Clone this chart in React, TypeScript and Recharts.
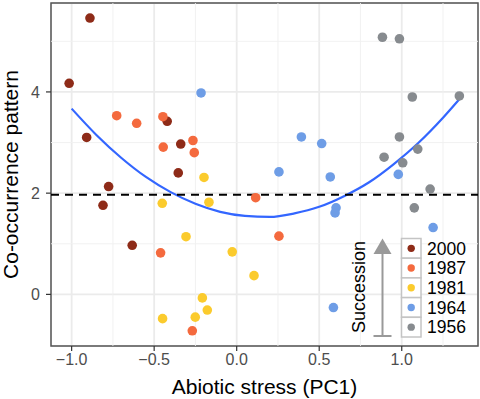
import React from 'react';
import {
  ComposedChart,
  Scatter,
  Line,
  XAxis,
  YAxis,
  CartesianGrid,
  ReferenceLine,
  ReferenceArea,
  Label,
} from 'recharts';

// survey years (legend order) and their colours
const years = ['2000', '1987', '1981', '1964', '1956'];
const colors = ['#8E2B18', '#F46A3E', '#FBCB2D', '#6E9DE6', '#878B8F'];

// points: x = abiotic stress (PC1), y = co-occurrence pattern
const pts2000 = [
  { x: -0.889, y: 5.46 }, { x: -1.015, y: 4.17 }, { x: -0.909, y: 3.1 },
  { x: -0.421, y: 3.42 }, { x: -0.339, y: 2.97 }, { x: -0.354, y: 2.4 },
  { x: -0.776, y: 2.13 }, { x: -0.81, y: 1.76 }, { x: -0.633, y: 0.97 },
];
const pts1987 = [
  { x: -0.727, y: 3.53 }, { x: -0.606, y: 3.38 }, { x: -0.447, y: 3.51 },
  { x: -0.445, y: 2.91 }, { x: -0.265, y: 3.04 }, { x: -0.257, y: 2.8 },
  { x: 0.115, y: 1.91 }, { x: 0.256, y: 1.15 }, { x: -0.461, y: 0.82 },
  { x: -0.269, y: -0.72 },
];
const pts1981 = [
  { x: -0.198, y: 2.31 }, { x: -0.168, y: 1.82 }, { x: -0.451, y: 1.8 },
  { x: -0.307, y: 1.14 }, { x: -0.027, y: 0.84 }, { x: 0.105, y: 0.37 },
  { x: -0.208, y: -0.07 }, { x: -0.178, y: -0.31 }, { x: -0.251, y: -0.45 },
  { x: -0.449, y: -0.48 },
];
const pts1964 = [
  { x: -0.216, y: 3.98 }, { x: 0.392, y: 3.11 }, { x: 0.515, y: 2.98 },
  { x: 0.256, y: 2.42 }, { x: 0.567, y: 2.32 }, { x: 0.979, y: 2.37 },
  { x: 0.602, y: 1.71 }, { x: 0.596, y: 1.61 }, { x: 1.19, y: 1.32 },
  { x: 0.586, y: -0.26 },
];
const pts1956 = [
  { x: 0.883, y: 5.08 }, { x: 0.986, y: 5.05 }, { x: 1.064, y: 3.9 },
  { x: 1.349, y: 3.92 }, { x: 0.986, y: 3.11 }, { x: 1.097, y: 2.87 },
  { x: 0.893, y: 2.71 }, { x: 1.006, y: 2.6 }, { x: 1.172, y: 2.08 },
  { x: 1.076, y: 1.71 },
];
const seriesPts = [pts2000, pts1987, pts1981, pts1964, pts1956];

// fitted curve
const curve = [
  { x: -1.0, y: 3.67 }, { x: -0.85, y: 3.15 }, { x: -0.7, y: 2.7 },
  { x: -0.55, y: 2.32 }, { x: -0.4, y: 2.02 }, { x: -0.25, y: 1.79 },
  { x: -0.1, y: 1.63 }, { x: 0.05, y: 1.55 }, { x: 0.2, y: 1.53 },
  { x: 0.35, y: 1.6 }, { x: 0.5, y: 1.73 }, { x: 0.65, y: 1.94 },
  { x: 0.8, y: 2.21 }, { x: 0.95, y: 2.57 }, { x: 1.1, y: 2.99 },
  { x: 1.25, y: 3.49 }, { x: 1.35, y: 3.86 },
];

const threshold = 1.97;
const xTicks = [-1, -0.5, 0, 0.5, 1];
const yTicks = [0, 2, 4];
const xMinor = [-0.75, -0.25, 0.25, 0.75, 1.25];
const yMinor = [1, 3, 5];
const xDomain: [number, number] = [-1.125, 1.462];
const yDomain: [number, number] = [-1.02, 5.757];

const FONT = '"Liberation Sans", Arial, Helvetica, sans-serif';

const fmtX = (v: number) => (v < 0 ? '\u2212' + Math.abs(v).toFixed(1) : v.toFixed(1));

const dot = (color: string) => (props: any) => (
  <circle cx={props.cx} cy={props.cy} r={4.8} fill={color} />
);

const LegendOverlay = () => (
  <svg
    width={480}
    height={399}
    style={{ position: 'absolute', left: 0, top: 0, pointerEvents: 'none', fontFamily: FONT }}
  >
    <line x1={382.5} y1={336} x2={382.5} y2={252} stroke="#999999" strokeWidth={2} />
    <line x1={373.5} y1={336} x2={391.5} y2={336} stroke="#999999" strokeWidth={2} />
    <polygon points="382.5,238.5 373.5,254 391.5,254" fill="#999999" />
    <text
      x={358.5}
      y={287}
      transform="rotate(-90 358.5 287)"
      textAnchor="middle"
      dominantBaseline="central"
      fontSize={18}
      fill="#000"
    >
      Succession
    </text>
    {years.map((yr, i) => {
      const top = 238.5 + i * 19.7;
      return (
        <g key={yr}>
          <rect x={401.5} y={top} width={19.5} height={19.7} fill="#fff" stroke="#C4C4C4" strokeWidth={1.5} />
          <circle cx={411.2} cy={top + 9.85} r={3.7} fill={colors[i]} />
          <text x={427} y={top + 10} dominantBaseline="central" fontSize={17.5} fill="#000">
            {yr}
          </text>
        </g>
      );
    })}
  </svg>
);

export default function App() {
  return (
    <div style={{ position: 'relative', width: 480, height: 399, background: '#fff' }}>
      <style>{'body{margin:0}'}</style>
      <ComposedChart
        width={480}
        height={399}
        margin={{ top: 3, right: 2, bottom: 0, left: 0 }}
        style={{ fontFamily: FONT }}
      >
        <CartesianGrid stroke="#EBEBEB" strokeWidth={1.8} />
        {xMinor.map((v) => (
          <ReferenceLine key={'xm' + v} x={v} stroke="#EFEFEF" strokeWidth={0.9} />
        ))}
        {yMinor.map((v) => (
          <ReferenceLine key={'ym' + v} y={v} stroke="#EFEFEF" strokeWidth={0.9} />
        ))}
        <XAxis
          type="number"
          dataKey="x"
          domain={xDomain}
          allowDataOverflow
          ticks={xTicks}
          tickFormatter={fmtX}
          axisLine={false}
          tickLine={{ stroke: '#333333', strokeWidth: 1.2 }}
          tickSize={5}
          tickMargin={3}
          tick={{ fill: '#4D4D4D', fontSize: 16 }}
          height={53}
        >
          <Label
            value="Abiotic stress (PC1)"
            position="insideBottom"
            offset={5}
            style={{ fill: '#000', fontSize: 21 }}
          />
        </XAxis>
        <YAxis
          type="number"
          dataKey="y"
          domain={yDomain}
          allowDataOverflow
          ticks={yTicks}
          axisLine={false}
          tickLine={{ stroke: '#333333', strokeWidth: 1.2 }}
          tickSize={5}
          tickMargin={6}
          tick={{ fill: '#4D4D4D', fontSize: 16 }}
          width={51}
        >
          <Label
            value="Co-occurrence pattern"
            angle={-90}
            position="insideLeft"
            offset={11}
            style={{ fill: '#000', fontSize: 21, textAnchor: 'middle' }}
          />
        </YAxis>
        {seriesPts.map((pts, i) => (
          <Scatter
            key={years[i]}
            name={years[i]}
            data={pts}
            fill={colors[i]}
            shape={dot(colors[i])}
            isAnimationActive={false}
          />
        ))}
        <Line
          data={curve}
          dataKey="y"
          type="monotone"
          stroke="#3366FF"
          strokeWidth={2.2}
          dot={false}
          activeDot={false}
          isAnimationActive={false}
        />
        <ReferenceLine y={threshold} stroke="#000" strokeWidth={2} strokeDasharray="8 6" />
        <ReferenceArea
          x1={xDomain[0]}
          x2={xDomain[1]}
          y1={yDomain[0]}
          y2={yDomain[1]}
          fill="none"
          stroke="#555555"
          strokeWidth={1.5}
        />
      </ComposedChart>
      <LegendOverlay />
    </div>
  );
}
